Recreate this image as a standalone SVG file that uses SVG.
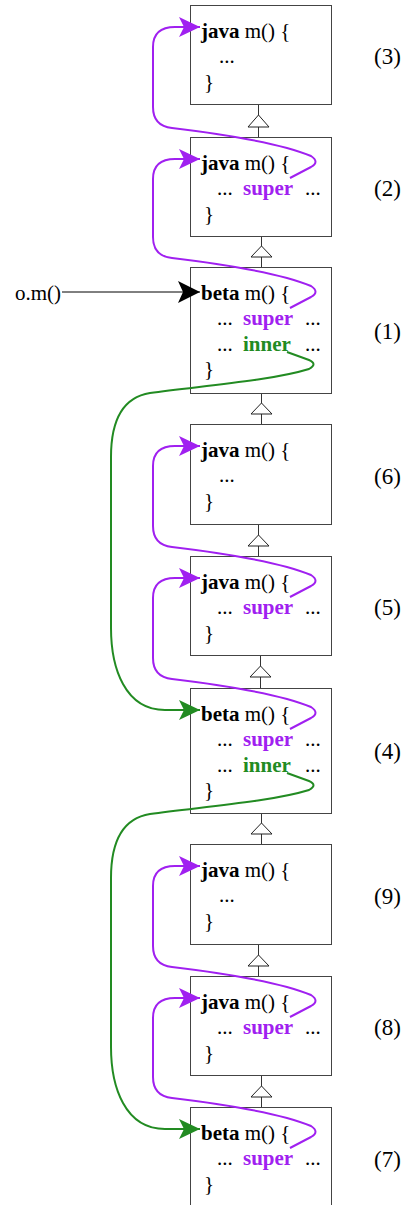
<svg xmlns="http://www.w3.org/2000/svg" width="408" height="1205" viewBox="0 0 408 1205">
  <style>
    text { font-family: "Liberation Serif", "Times New Roman", serif; font-size: 21px; fill: #000; }
    .kw { font-weight: bold; }
    .sup { font-weight: bold; fill: #a020f0; }
    .inn { font-weight: bold; fill: #228b22; }
    .num { font-size: 23px; }
    .box { fill: #fff; stroke: #444; stroke-width: 1; }
    .inh { stroke: #333; stroke-width: 1; fill: none; }
    .tri { fill: #fff; stroke: #222; stroke-width: 1; }
    .call { stroke: #a020f0; stroke-width: 2; fill: none; marker-end: url(#headPurple); }
    .inner { stroke: #228b22; stroke-width: 2; fill: none; marker-end: url(#headGreen); }
    .entry { stroke: #000; stroke-width: 1; fill: none; marker-end: url(#headBlack); }
  </style>
  <defs>
    <marker id="headPurple" markerUnits="userSpaceOnUse" markerWidth="22" markerHeight="22" refX="21" refY="10" orient="auto">
      <path d="M0,0 L21,10 L0,20 L5,10 z" fill="#a020f0"/>
    </marker>
    <marker id="headGreen" markerUnits="userSpaceOnUse" markerWidth="22" markerHeight="22" refX="21" refY="10" orient="auto">
      <path d="M0,0 L21,10 L0,20 L5,10 z" fill="#228b22"/>
    </marker>
    <marker id="headBlack" markerUnits="userSpaceOnUse" markerWidth="24" markerHeight="24" refX="22" refY="11" orient="auto">
      <path d="M0,0 L22,11 L0,22 L5,11 z" fill="#000"/>
    </marker>
  </defs>

  <!-- inheritance links: hollow triangles pointing to the superclass -->
  <g id="inheritance">
    <path class="inh" d="M258.5,104 V115 M258.5,127 V137"/>
    <polygon class="tri" points="258.5,115 248,127 269,127"/>
    <path class="inh" d="M261.5,236 V246 M261.5,257 V267"/>
    <polygon class="tri" points="261.5,246 251,257 272,257"/>
    <path class="inh" d="M261.5,393 V403 M261.5,414 V424"/>
    <polygon class="tri" points="261.5,403 251,414 272,414"/>
    <path class="inh" d="M258.5,524 V535 M258.5,546 V556"/>
    <polygon class="tri" points="258.5,535 248,546 269,546"/>
    <path class="inh" d="M260.5,655 V666 M260.5,677 V688"/>
    <polygon class="tri" points="260.5,666 250,677 271,677"/>
    <path class="inh" d="M261.5,813 V823 M261.5,834 V844"/>
    <polygon class="tri" points="261.5,823 251,834 272,834"/>
    <path class="inh" d="M258.5,944 V955 M258.5,966 V976"/>
    <polygon class="tri" points="258.5,955 248,966 269,966"/>
    <path class="inh" d="M261.5,1075 V1086 M261.5,1097 V1107"/>
    <polygon class="tri" points="261.5,1086 251,1097 272,1097"/>
  </g>

  <!-- method bodies -->
  <g id="m3">
    <rect class="box" x="190.5" y="5.5" width="141" height="99"/>
    <text x="201" y="38"><tspan class="kw">java</tspan> m() {</text>
    <text x="219" y="63">...</text>
    <text x="204" y="89">}</text>
    <text class="num" x="374" y="64">(3)</text>
  </g>
  <g id="m2">
    <rect class="box" x="190.5" y="137.5" width="141" height="99"/>
    <text x="201" y="170"><tspan class="kw">java</tspan> m() {</text>
    <text x="217" y="195">...</text><text class="sup" x="243" y="195">super</text><text x="305" y="195">...</text>
    <text x="204" y="221">}</text>
    <text class="num" x="374" y="196">(2)</text>
  </g>
  <g id="m1">
    <rect class="box" x="190.5" y="267.5" width="141" height="126"/>
    <text x="201" y="300"><tspan class="kw">beta</tspan> m() {</text>
    <text x="217" y="325">...</text><text class="sup" x="243" y="325">super</text><text x="305" y="325">...</text>
    <text x="217" y="351">...</text><text class="inn" x="243" y="351">inner</text><text x="305" y="351">...</text>
    <text x="204" y="376">}</text>
    <text class="num" x="374" y="339">(1)</text>
  </g>
  <g id="m6">
    <rect class="box" x="190.5" y="424.5" width="141" height="100"/>
    <text x="201" y="457"><tspan class="kw">java</tspan> m() {</text>
    <text x="219" y="482">...</text>
    <text x="204" y="508">}</text>
    <text class="num" x="374" y="484">(6)</text>
  </g>
  <g id="m5">
    <rect class="box" x="190.5" y="556.5" width="141" height="99"/>
    <text x="201" y="589"><tspan class="kw">java</tspan> m() {</text>
    <text x="217" y="614">...</text><text class="sup" x="243" y="614">super</text><text x="305" y="614">...</text>
    <text x="204" y="640">}</text>
    <text class="num" x="374" y="615">(5)</text>
  </g>
  <g id="m4">
    <rect class="box" x="190.5" y="688.5" width="141" height="125"/>
    <text x="201" y="721"><tspan class="kw">beta</tspan> m() {</text>
    <text x="217" y="746">...</text><text class="sup" x="243" y="746">super</text><text x="305" y="746">...</text>
    <text x="217" y="772">...</text><text class="inn" x="243" y="772">inner</text><text x="305" y="772">...</text>
    <text x="204" y="797">}</text>
    <text class="num" x="374" y="759">(4)</text>
  </g>
  <g id="m9">
    <rect class="box" x="190.5" y="844.5" width="141" height="100"/>
    <text x="201" y="877"><tspan class="kw">java</tspan> m() {</text>
    <text x="219" y="902">...</text>
    <text x="204" y="928">}</text>
    <text class="num" x="374" y="904">(9)</text>
  </g>
  <g id="m8">
    <rect class="box" x="190.5" y="976.5" width="141" height="99"/>
    <text x="201" y="1009"><tspan class="kw">java</tspan> m() {</text>
    <text x="217" y="1034">...</text><text class="sup" x="243" y="1034">super</text><text x="305" y="1034">...</text>
    <text x="204" y="1060">}</text>
    <text class="num" x="374" y="1035">(8)</text>
  </g>
  <g id="m7">
    <rect class="box" x="190.5" y="1107.5" width="141" height="99"/>
    <text x="201" y="1140"><tspan class="kw">beta</tspan> m() {</text>
    <text x="217" y="1165">...</text><text class="sup" x="243" y="1165">super</text><text x="305" y="1165">...</text>
    <text x="204" y="1191">}</text>
    <text class="num" x="374" y="1167">(7)</text>
  </g>

  <!-- control flow -->
  <g id="connectors">
    <text x="15" y="300">o.m()</text>
    <path class="entry" d="M62,292 H200"/>

    <path class="call" d="M290,178 L311,167 Q320,162 311,156 C285,145 230,135 172,128 Q153,126 153,107 L153,47 Q153,27 175,27 L200,27"/>
    <path class="call" d="M290,308 L311,297 Q320,292 311,286 C285,275 230,265 172,258 Q153,256 153,237 L153,179 Q153,159 175,159 L200,159"/>
    <path class="call" d="M290,597 L311,586 Q320,581 311,575 C285,564 230,554 172,547 Q153,545 153,526 L153,466 Q153,446 175,446 L200,446"/>
    <path class="call" d="M290,729 L311,718 Q320,713 311,707 C285,696 230,686 172,679 Q153,677 153,658 L153,598 Q153,578 175,578 L200,578"/>
    <path class="call" d="M290,1017 L311,1006 Q320,1001 311,995 C285,984 230,974 172,967 Q153,965 153,946 L153,886 Q153,866 175,866 L200,866"/>
    <path class="call" d="M290,1148 L311,1137 Q320,1132 311,1126 C285,1115 230,1105 172,1098 Q153,1096 153,1077 L153,1018 Q153,998 175,998 L200,998"/>

    <path class="inner" d="M287,352 L309,360 Q318,364 309,369 C270,381 200,386 150,393 C125,397 111,417 111,457 L111,628 C111,668 125,710 165,710 L200,710"/>
    <path class="inner" d="M287,773 L309,781 Q318,785 309,790 C270,802 200,807 150,814 C125,818 111,838 111,878 L111,1047 C111,1087 125,1129 165,1129 L200,1129"/>
  </g>
</svg>
